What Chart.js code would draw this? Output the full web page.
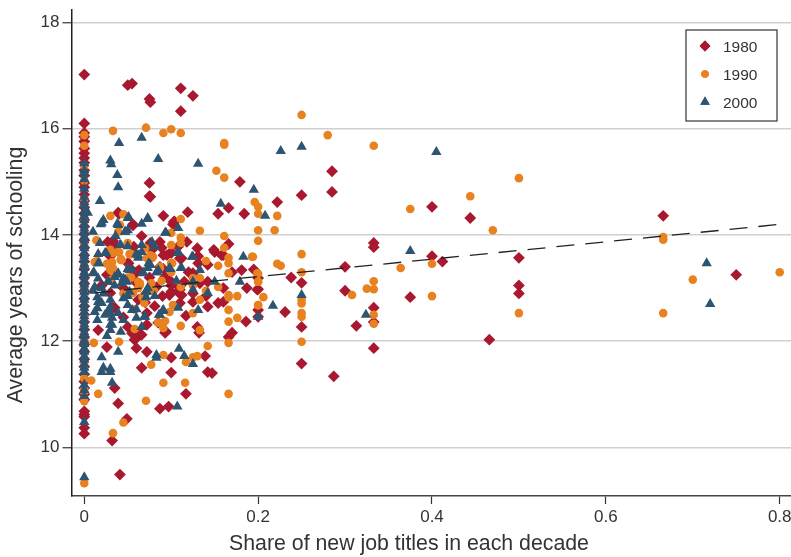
<!DOCTYPE html>
<html>
<head>
<meta charset="utf-8">
<title>Share of new job titles and schooling</title>
<script src="https://cdn.jsdelivr.net/npm/chart.js@4/dist/chart.umd.min.js"></script>
<style>
  html, body { margin: 0; padding: 0; background: #fff; }
  canvas { display: block; }
</style>
</head>
<body>
<canvas id="grafico" width="791" height="557"></canvas>
<script>
const xTicks = [0, 0.2, 0.4, 0.6, 0.8];
const yTicks = [10, 12, 14, 16, 18];
const years = ['1980', '1990', '2000'];
const xLabel = 'Share of new job titles in each decade';
const yLabel = 'Average years of schooling';

// occupations with no new titles, they all sit on x = 0
const zero1980 = [17.02, 16.1, 15.92, 15.85, 15.76, 15.63, 15.54, 15.45, 15.36, 15.22, 15.12, 14.98, 14.9, 14.76, 14.64, 14.52, 14.4, 14.28, 14.16, 14.02, 13.9, 13.76, 13.62, 13.5, 13.36, 13.2, 13.08, 12.94, 12.8, 12.66, 12.5, 12.36, 12.22, 12.08, 11.94, 11.8, 11.66, 11.52, 11.38, 11.24, 11.12, 11.0, 10.9, 10.68, 10.62, 10.58, 10.37, 10.26];
const zero1990 = [15.88, 15.68, 15.3, 15.02, 14.68, 14.25, 13.85, 13.42, 12.98, 12.5, 12.02, 11.55, 11.3, 11.12, 11.05, 10.87, 9.33];
const zero2000 = [15.35, 15.22, 15.15, 15.05, 14.87, 14.72, 14.62, 14.55, 14.45, 14.36, 14.28, 14.2, 14.12, 14.05, 13.97, 13.9, 13.82, 13.75, 13.67, 13.6, 13.53, 13.45, 13.38, 13.3, 13.22, 13.15, 13.07, 13.0, 12.92, 12.85, 12.78, 12.7, 12.62, 12.55, 12.47, 12.4, 12.32, 12.25, 12.17, 12.1, 12.02, 11.95, 11.87, 11.8, 11.72, 11.65, 11.57, 11.5, 11.42, 11.18, 11.08, 10.97, 10.48, 9.44];

// [share, years of schooling]
const pts1980 = [
  [0.05, 16.82], [0.055, 16.85], [0.075, 16.56], [0.076, 16.5], [0.111, 16.76], [0.125, 16.62], [0.111, 16.33],
  [0.075, 14.98], [0.075, 14.73], [0.091, 14.36], [0.119, 14.43], [0.154, 14.4], [0.166, 14.51], [0.184, 14.4],
  [0.179, 15.0], [0.104, 14.25], [0.102, 14.2], [0.056, 14.2], [0.066, 13.98], [0.033, 13.89], [0.04, 14.4],
  [0.076, 13.85], [0.087, 13.87], [0.118, 13.87], [0.108, 13.78], [0.149, 13.72], [0.166, 13.83], [0.222, 14.62],
  [0.25, 14.75], [0.285, 15.2], [0.285, 14.81], [0.4, 14.53], [0.444, 14.32], [0.333, 13.85], [0.333, 13.77],
  [0.3, 13.4], [0.4, 13.6], [0.412, 13.5], [0.5, 13.57], [0.5, 13.05], [0.5, 12.9], [0.238, 13.2], [0.25, 13.1],
  [0.3, 12.95], [0.2, 12.98], [0.2, 13.19], [0.2, 12.59], [0.2, 12.46], [0.231, 12.55], [0.25, 12.27], [0.333, 12.63],
  [0.333, 12.36], [0.313, 12.29], [0.375, 12.83], [0.333, 11.87], [0.466, 12.03], [0.25, 11.58], [0.287, 11.34],
  [0.666, 14.36], [0.75, 13.25], [0.016, 12.21], [0.026, 11.89], [0.05, 12.27], [0.058, 12.03], [0.06, 11.87],
  [0.066, 12.12], [0.072, 12.31], [0.094, 12.18], [0.117, 12.48], [0.13, 12.27], [0.132, 12.16], [0.142, 12.65],
  [0.154, 12.72], [0.16, 12.74], [0.125, 12.74], [0.081, 12.66], [0.072, 12.53], [0.072, 11.8], [0.066, 11.5],
  [0.1, 11.69], [0.139, 11.72], [0.1, 11.41], [0.142, 11.42], [0.147, 11.4], [0.117, 11.01], [0.035, 11.12],
  [0.039, 10.83], [0.087, 10.73], [0.097, 10.77], [0.049, 10.54], [0.032, 10.13], [0.041, 9.49], [0.17, 12.16],
  [0.166, 12.08], [0.186, 12.37], [0.181, 13.34], [0.142, 13.44], [0.15, 13.68], [0.16, 13.62], [0.11, 13.56],
  [0.051, 13.47], [0.026, 13.25], [0.063, 13.34], [0.087, 13.4], [0.133, 13.09], [0.142, 13.12], [0.109, 12.91],
  [0.098, 12.87], [0.187, 13.0], [0.199, 12.97], [0.062, 12.78], [0.035, 12.63], [0.03, 12.91], [0.076, 14.72],
  [0.039, 14.42], [0.103, 14.25], [0.056, 14.18], [0.027, 13.87], [0.057, 13.78], [0.089, 13.76], [0.078, 13.72],
  [0.158, 13.62], [0.091, 13.62], [0.1, 13.66], [0.112, 13.56], [0.131, 13.6], [0.131, 13.47], [0.05, 13.47],
  [0.091, 13.36], [0.032, 13.36], [0.055, 13.34], [0.125, 13.28], [0.1, 13.05], [0.08, 13.0], [0.115, 13.12],
  [0.06, 13.1], [0.045, 13.0], [0.09, 12.85], [0.11, 12.72], [0.045, 12.45], [0.085, 12.35], [0.02, 13.05],
  [0.125, 12.9], [0.12, 13.3], [0.075, 13.2], [0.14, 12.85], [0.16, 13.0], [0.17, 13.3], [0.195, 13.35],
  [0.095, 13.62], [0.1, 13.68], [0.055, 13.21], [0.093, 13.21], [0.06, 13.3], [0.109, 13.02], [0.112, 12.87],
  [0.1, 12.93], [0.083, 13.02], [0.055, 12.15], [0.064, 12.12], [0.058, 12.03], [0.093, 12.16], [0.032, 12.63],
  [0.07, 12.73], [0.11, 12.97], [0.068, 12.85], [0.036, 13.8], [0.13, 13.75], [0.1, 13.12], [0.03, 13.6]
];
const pts1990 = [
  [0.25, 16.26], [0.28, 15.88], [0.333, 15.68], [0.5, 15.07], [0.444, 14.73], [0.375, 14.49], [0.47, 14.09],
  [0.196, 14.62], [0.2, 14.53], [0.2, 14.4], [0.222, 14.36], [0.2, 14.09], [0.219, 14.09], [0.2, 13.89], [0.25, 13.64],
  [0.194, 13.59], [0.222, 13.46], [0.226, 13.42], [0.2, 13.27], [0.25, 13.3], [0.2, 13.12], [0.206, 12.83], [0.2, 12.68],
  [0.25, 12.78], [0.25, 12.71], [0.25, 12.53], [0.25, 12.46], [0.25, 11.99], [0.308, 12.87], [0.325, 12.99], [0.333, 12.98],
  [0.333, 13.13], [0.333, 12.5], [0.333, 12.33], [0.364, 13.38], [0.4, 13.46], [0.4, 12.85], [0.5, 12.53], [0.666, 13.96],
  [0.666, 13.91], [0.666, 12.53], [0.7, 13.16], [0.8, 13.3], [0.033, 15.96], [0.071, 16.02], [0.091, 15.92], [0.1, 15.99],
  [0.111, 15.92], [0.161, 15.73], [0.161, 15.7], [0.152, 15.21], [0.161, 15.08], [0.133, 14.08], [0.111, 14.3], [0.03, 14.36],
  [0.045, 14.39], [0.161, 13.98], [0.1, 14.04], [0.111, 13.95], [0.1, 13.81], [0.014, 13.9], [0.039, 14.06], [0.041, 14.19],
  [0.03, 13.72], [0.011, 11.97], [0.04, 11.99], [0.058, 12.23], [0.091, 12.25], [0.085, 12.35], [0.093, 12.38], [0.111, 12.29],
  [0.133, 12.21], [0.166, 12.37], [0.176, 12.44], [0.166, 12.59], [0.166, 12.87], [0.166, 12.83], [0.176, 12.85], [0.133, 12.78],
  [0.125, 12.53], [0.166, 11.97], [0.142, 11.91], [0.091, 11.74], [0.077, 11.56], [0.117, 11.61], [0.125, 11.7], [0.13, 11.72],
  [0.091, 11.22], [0.116, 11.22], [0.071, 10.88], [0.166, 11.01], [0.008, 11.26], [0.016, 11.01], [0.045, 10.47], [0.033, 10.27],
  [0.193, 13.59], [0.166, 13.57], [0.166, 13.47], [0.166, 13.28], [0.14, 13.51], [0.154, 13.42], [0.101, 13.47], [0.087, 13.38],
  [0.077, 13.59], [0.072, 13.57], [0.042, 13.53], [0.032, 13.49], [0.026, 13.46], [0.015, 13.51], [0.03, 13.34], [0.035, 13.3],
  [0.039, 13.68], [0.052, 13.64], [0.077, 13.09], [0.089, 13.14], [0.064, 13.09], [0.062, 13.0], [0.056, 12.91], [0.067, 12.83],
  [0.069, 12.72], [0.102, 12.68], [0.098, 12.55], [0.133, 13.19], [0.154, 13.02], [0.199, 13.28], [0.2, 13.12], [0.2, 12.68],
  [0.111, 13.85], [0.033, 13.66], [0.04, 13.68], [0.054, 13.64], [0.079, 13.59], [0.043, 13.53], [0.012, 13.49], [0.1, 13.47],
  [0.161, 13.76], [0.032, 13.32], [0.125, 13.19], [0.125, 13.05], [0.111, 13.02], [0.05, 13.2], [0.08, 12.95], [0.14, 12.95],
  [0.032, 13.68], [0.042, 13.55], [0.076, 13.62], [0.078, 13.57], [0.033, 13.38], [0.062, 13.12], [0.064, 13.06],
  [0.087, 13.4], [0.054, 13.2], [0.07, 13.75], [0.05, 13.85], [0.03, 13.15], [0.045, 12.9], [0.1, 13.3], [0.058, 12.6]
];
const pts2000 = [
  [0.04, 15.73], [0.066, 15.83], [0.085, 15.43], [0.131, 15.34], [0.03, 15.4], [0.031, 15.33], [0.038, 15.13], [0.039, 14.9],
  [0.018, 14.64], [0.195, 14.85], [0.157, 14.59], [0.004, 14.42], [0.022, 14.28], [0.019, 14.2], [0.051, 14.34], [0.073, 14.32],
  [0.039, 14.19], [0.066, 14.21], [0.05, 14.09], [0.047, 14.06], [0.108, 14.13], [0.094, 14.04], [0.01, 14.06], [0.036, 13.98],
  [0.018, 13.85], [0.041, 13.81], [0.05, 13.79], [0.066, 13.81], [0.078, 13.87], [0.081, 13.78], [0.226, 15.58], [0.25, 15.66],
  [0.405, 15.56], [0.208, 14.36], [0.375, 13.7], [0.25, 12.87], [0.217, 12.67], [0.2, 12.46], [0.324, 12.5], [0.716, 13.47],
  [0.72, 12.7], [0.183, 13.59], [0.125, 13.59], [0.108, 13.66], [0.098, 13.38], [0.111, 13.38], [0.133, 13.34], [0.083, 13.3],
  [0.067, 13.28], [0.076, 13.44], [0.052, 13.34], [0.017, 13.47], [0.01, 13.28], [0.016, 13.18], [0.012, 13.02], [0.035, 13.21],
  [0.039, 13.25], [0.045, 13.18], [0.043, 13.09], [0.049, 13.12], [0.15, 13.12], [0.179, 13.12], [0.106, 13.14], [0.125, 13.12],
  [0.125, 12.97], [0.142, 12.91], [0.072, 12.93], [0.081, 12.85], [0.052, 12.93], [0.03, 12.78], [0.045, 12.81], [0.015, 12.83],
  [0.016, 12.74], [0.015, 12.62], [0.05, 12.68], [0.055, 12.59], [0.091, 12.59], [0.087, 12.5], [0.108, 12.63], [0.131, 12.59],
  [0.06, 12.44], [0.069, 12.46], [0.015, 12.4], [0.024, 12.5], [0.032, 12.44], [0.032, 12.31], [0.03, 12.21], [0.042, 12.18],
  [0.066, 12.27], [0.026, 12.1], [0.039, 11.8], [0.02, 11.7], [0.083, 11.74], [0.083, 11.69], [0.109, 11.86], [0.115, 11.72],
  [0.125, 11.57], [0.022, 11.5], [0.02, 11.42], [0.03, 11.48], [0.03, 11.42], [0.032, 11.22], [0.107, 10.77], [0.038, 14.21],
  [0.02, 14.23], [0.05, 14.32], [0.073, 14.3], [0.047, 14.06], [0.093, 14.04], [0.066, 13.68], [0.016, 13.64], [0.024, 13.66],
  [0.06, 13.64], [0.062, 13.57], [0.108, 13.68], [0.124, 13.59], [0.016, 13.47], [0.074, 13.47], [0.073, 13.38], [0.084, 13.3],
  [0.05, 13.36], [0.099, 13.36], [0.011, 13.3], [0.039, 13.28], [0.047, 13.15], [0.071, 12.93], [0.09, 12.57], [0.086, 12.5],
  [0.07, 12.46], [0.027, 12.53], [0.039, 12.53], [0.03, 12.31], [0.02, 13.0], [0.022, 12.9], [0.035, 13.05], [0.012, 12.55],
  [0.01, 12.95], [0.028, 13.12], [0.02, 12.72], [0.03, 12.65],
  [0.042, 13.81], [0.025, 13.66], [0.062, 13.62], [0.075, 13.44], [0.112, 13.38], [0.085, 13.34], [0.068, 13.29],
  [0.055, 13.34], [0.027, 13.12], [0.073, 13.0], [0.071, 12.83], [0.03, 12.53], [0.045, 12.4], [0.06, 12.6], [0.05, 12.85]
];
const trendLine = [[0.012, 12.91], [0.8, 14.2]];

const toPoints = (zeros, pts) => zeros.map(y => ({ x: 0, y })).concat(pts.map(p => ({ x: p[0], y: p[1] })));

const colores = ['#a8182f', '#e8811f', '#2d5470'];
const estilos = ['rectRot', 'circle', 'triangle'];
const radios = [5.9, 4.3, 6];
const fuente = '"Liberation Sans", Arial, sans-serif';

// legend box sits inside the plot and the axis titles are off centre, so they're drawn by hand
const cajaLeyenda = {
  id: 'cajaLeyenda',
  afterDraw(chart) {
    const ctx = chart.ctx;
    ctx.save();
    ctx.fillStyle = '#fff';
    ctx.fillRect(686, 30, 91, 91);
    ctx.strokeStyle = '#333';
    ctx.lineWidth = 1.2;
    ctx.strokeRect(686, 30, 91, 91);
    years.forEach((year, i) => {
      const y = 46 + i * 28;
      ctx.fillStyle = colores[i];
      Chart.helpers.drawPoint(ctx, { pointStyle: estilos[i], radius: radios[i] - 0.5, borderWidth: 0 }, 705, y);
      ctx.fill();
      ctx.fillStyle = '#333';
      ctx.font = '15.5px ' + fuente;
      ctx.textBaseline = 'middle';
      ctx.textAlign = 'left';
      ctx.fillText(year, 723, y + 2);
    });
    ctx.font = '21.3px ' + fuente;
    ctx.textAlign = 'center';
    ctx.fillText(xLabel, 409, 544);
    ctx.translate(16, 275);
    ctx.rotate(-Math.PI / 2);
    ctx.fillText(yLabel, 0, 0);
    ctx.restore();
  }
};

new Chart(document.getElementById('grafico').getContext('2d'), {
  type: 'scatter',
  data: {
    datasets: [
      {
        type: 'line',
        label: 'Fit',
        data: trendLine.map(p => ({ x: p[0], y: p[1] })),
        borderColor: '#222',
        borderWidth: 1.3,
        borderDash: [18, 11],
        pointRadius: 0,
        fill: false,
        order: 0
      },
      { label: years[2], data: toPoints(zero2000, pts2000), pointStyle: estilos[2], pointRadius: radios[2], backgroundColor: colores[2], borderWidth: 0, order: 1 },
      { label: years[1], data: toPoints(zero1990, pts1990), pointStyle: estilos[1], pointRadius: radios[1], backgroundColor: colores[1], borderWidth: 0, order: 2 },
      { label: years[0], data: toPoints(zero1980, pts1980), pointStyle: estilos[0], pointRadius: radios[0], backgroundColor: colores[0], borderWidth: 0, order: 3 }
    ]
  },
  options: {
    responsive: false,
    animation: false,
    layout: { autoPadding: false, padding: { top: 10, right: 0, bottom: 0, left: 0 } },
    plugins: { legend: { display: false }, tooltip: { enabled: false } },
    scales: {
      x: {
        type: 'linear',
        min: -0.0147,
        max: 0.813,
        afterFit(scale) { scale.height = 61; scale.paddingLeft = 0; scale.paddingRight = 0; },
        afterBuildTicks(scale) { scale.ticks = xTicks.map(v => ({ value: v })); },
        grid: { drawOnChartArea: false, tickLength: 8, tickColor: '#333', tickWidth: 1.2 },
        border: { color: '#444', width: 1.5 },
        ticks: { color: '#333', font: { family: fuente, size: 17 }, padding: 3, maxRotation: 0, autoSkip: false }
      },
      y: {
        type: 'linear',
        min: 9.087,
        max: 18.235,
        afterFit(scale) { scale.width = 71.5; scale.paddingTop = 0; scale.paddingBottom = 0; },
        afterBuildTicks(scale) { scale.ticks = yTicks.map(v => ({ value: v })); },
        grid: { color: '#cfcfcf', lineWidth: 1.5, tickLength: 9, tickColor: '#333', tickWidth: 1.2 },
        border: { color: '#222', width: 1.5 },
        ticks: { color: '#333', font: { family: fuente, size: 17 }, padding: 3, autoSkip: false }
      }
    }
  },
  plugins: [cajaLeyenda]
});
</script>
</body>
</html>
